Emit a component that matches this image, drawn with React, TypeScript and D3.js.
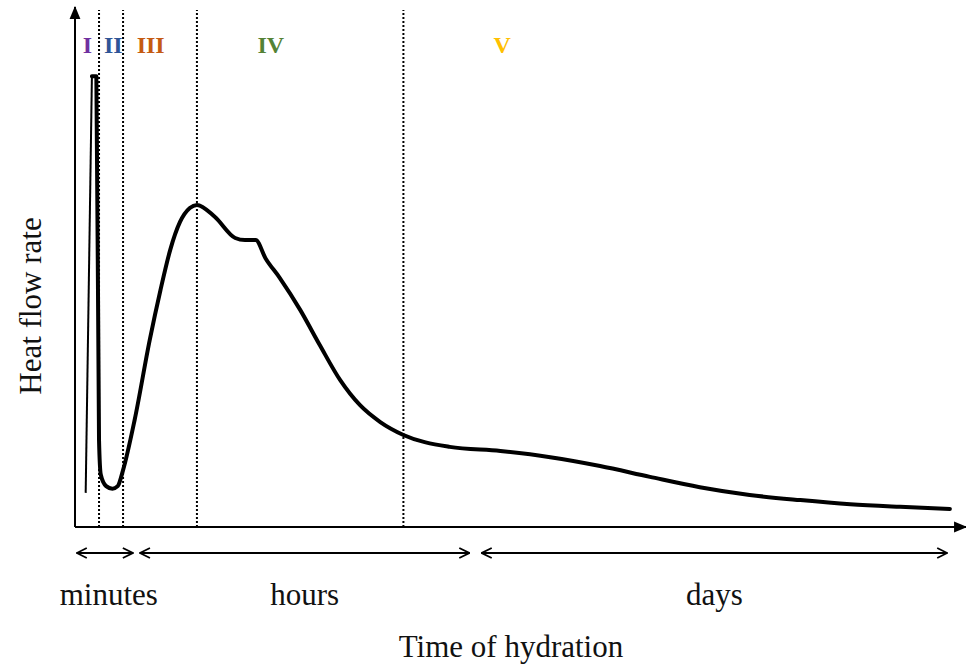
import * as d3 from 'd3';

// Abstract time axis (0..100) and heat flow (0..100)
const riseTime = [1.2, 1.9];
const riseHeat = [6.6, 87.2];

const curveTime = [
  1.9, 2.4, 2.7, 2.9, 3.5, 4.2, 4.8, 5.4, 6.7, 8.4, 9.6, 10.7, 11.8, 12.9, 13.7,
  15.7, 18.0, 19.1, 20.3, 21.4, 23.0, 25.3, 27.5, 29.8, 32.0, 34.3, 36.9, 42.1,
  47.8, 53.4, 59.0, 64.6, 70.2, 75.8, 81.5, 87.1, 92.7, 98.3,
];
const curveHeat = [
  87.2, 87.2, 16.8, 10.1, 7.9, 7.4, 7.9, 11.0, 20.7, 36.2, 45.8, 53.6, 59.0, 61.7, 62.3,
  60.0, 55.9, 55.5, 55.5, 52.0, 48.2, 42.0, 35.2, 28.4, 23.6, 20.3, 17.8, 15.5,
  14.7, 13.5, 11.8, 9.7, 7.7, 6.2, 5.2, 4.4, 3.9, 3.5,
];

const dividers = [2.7, 5.4, 13.7, 36.9];

const phaseLabels = ['I', 'II', 'III', 'IV', 'V'];
const phaseTimes = [1.4, 4.3, 8.5, 22.0, 48.0];
const phaseColors = ['#7030A0', '#2F5597', '#C55A11', '#548235', '#FFC000'];

const rangeLabels = ['minutes', 'hours', 'days'];
const rangeStart = [0.2, 7.3, 45.7];
const rangeEnd = [6.5, 44.3, 98.0];

const width = 966;
const height = 664;
const margin = { top: 10, right: 1, bottom: 137, left: 75 };
const font = '"Liberation Serif", "Times New Roman", serif';

export default function App() {
  const x = d3.scaleLinear()
    .domain([0, 100])
    .range([margin.left, width - margin.right]);

  const y = d3.scaleLinear()
    .domain([0, 100])
    .range([height - margin.bottom, margin.top]);

  const line = d3.line<[number, number]>()
    .x(d => x(d[0]))
    .y(d => y(d[1]))
    .curve(d3.curveMonotoneX);

  const riseData = riseTime.map((t, i) => [t, riseHeat[i]] as [number, number]);
  const curveData = curveTime.map((t, i) => [t, curveHeat[i]] as [number, number]);

  const x0 = x(0);
  const y0 = y(0);
  const arrowY = y0 + 26;

  return (
    <svg
      width={width}
      height={height}
      style={{ position: 'absolute', left: 0, top: 0, background: '#fff' }}
    >
      <defs>
        <marker id="axisHead" viewBox="0 0 12 12" refX="11" refY="6"
          markerWidth="13" markerHeight="13" markerUnits="userSpaceOnUse"
          orient="auto-start-reverse">
          <path d="M0,1 L12,6 L0,11 z" fill="black" />
        </marker>
        <marker id="openHead" viewBox="0 0 12 12" refX="11" refY="6"
          markerWidth="12" markerHeight="12" markerUnits="userSpaceOnUse"
          orient="auto-start-reverse">
          <path d="M1,1 L11,6 L1,11" fill="none" stroke="black" strokeWidth={1.8} />
        </marker>
      </defs>

      {/* dotted phase dividers */}
      {dividers.map(d => (
        <line key={d} x1={x(d)} x2={x(d)} y1={y0} y2={margin.top}
          stroke="black" strokeWidth={2} strokeDasharray="2,2" />
      ))}

      {/* axes */}
      <line x1={x0} x2={x0} y1={y0} y2={margin.top - 3}
        stroke="black" strokeWidth={2} markerEnd="url(#axisHead)" />
      <line x1={x0} x2={width} y1={y0} y2={y0}
        stroke="black" strokeWidth={2} markerEnd="url(#axisHead)" />

      {/* heat flow curve */}
      <path d={line(riseData) || ''} fill="none" stroke="black" strokeWidth={2} />
      <path d={line(curveData) || ''} fill="none" stroke="black" strokeWidth={4}
        strokeLinejoin="round" strokeLinecap="round" />

      {/* phase labels */}
      {phaseLabels.map((p, i) => (
        <text key={p} x={x(phaseTimes[i])} y={53} textAnchor="middle"
          fontFamily={font} fontWeight="bold" fontSize={24} fill={phaseColors[i]}>
          {p}
        </text>
      ))}

      {/* time range arrows */}
      {rangeLabels.map((r, i) => (
        <g key={r}>
          <line x1={x(rangeStart[i])} x2={x(rangeEnd[i])} y1={arrowY} y2={arrowY}
            stroke="black" strokeWidth={2}
            markerStart="url(#openHead)" markerEnd="url(#openHead)" />
          <text x={(x(rangeStart[i]) + x(rangeEnd[i])) / 2 + (i === 0 ? 4 : 0)} y={605}
            textAnchor="middle" fontFamily={font} fontSize={31} fill="#111">
            {r}
          </text>
        </g>
      ))}

      <text x={511} y={657} textAnchor="middle" fontFamily={font} fontSize={31} fill="#111">
        Time of hydration
      </text>
      <text transform={`translate(41,306) rotate(-90)`} textAnchor="middle"
        fontFamily={font} fontSize={31} fill="#111">
        Heat flow rate
      </text>
    </svg>
  );
}
